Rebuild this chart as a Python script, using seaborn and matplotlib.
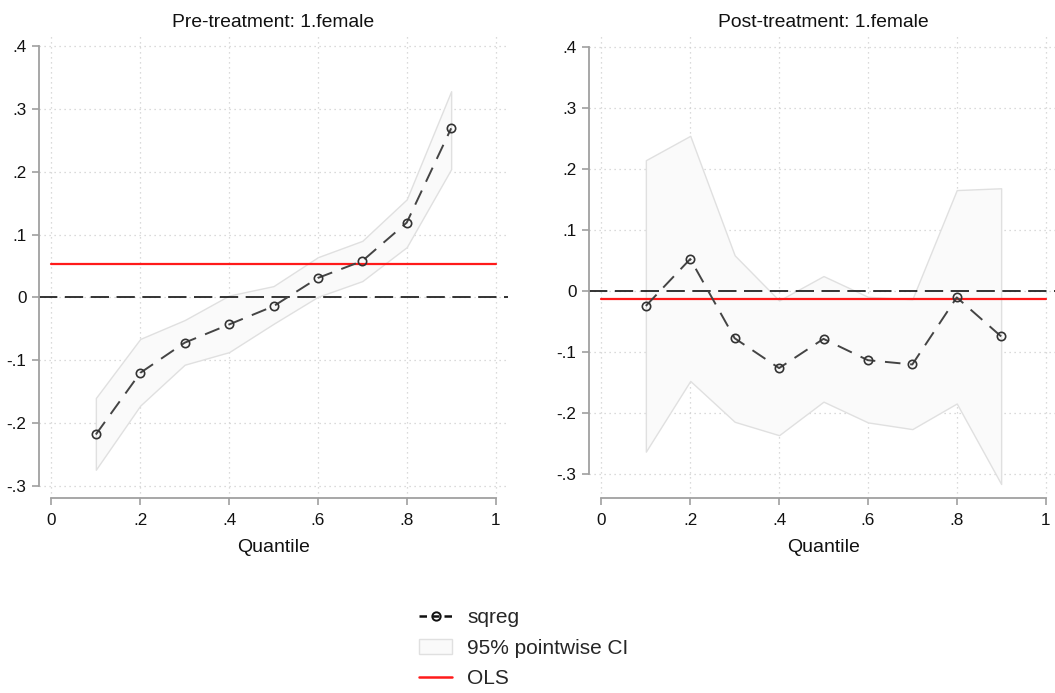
import matplotlib
matplotlib.use("Agg")
import matplotlib.pyplot as plt
import numpy as np
import pandas as pd
import seaborn as sns
from matplotlib.lines import Line2D
from matplotlib.patches import Patch

# Quantiles and estimates
quantiles = [0.1, 0.2, 0.3, 0.4, 0.5, 0.6, 0.7, 0.8, 0.9]

pre_coef = [-0.218, -0.120, -0.072, -0.043, -0.014, 0.031, 0.058, 0.119, 0.269]
pre_upper = [-0.160, -0.066, -0.036, 0.003, 0.018, 0.064, 0.090, 0.156, 0.328]
pre_lower = [-0.274, -0.172, -0.107, -0.087, -0.042, 0.001, 0.026, 0.080, 0.204]
pre_ols = 0.053

post_coef = [-0.025, 0.052, -0.078, -0.127, -0.079, -0.114, -0.121, -0.011, -0.075]
post_upper = [0.214, 0.254, 0.058, -0.016, 0.024, -0.010, -0.014, 0.165, 0.168]
post_lower = [-0.264, -0.148, -0.215, -0.237, -0.182, -0.216, -0.227, -0.185, -0.317]
post_ols = -0.014

titles = ["Pre-treatment: 1.female", "Post-treatment: 1.female"]
yticks = [-0.3, -0.2, -0.1, 0, 0.1, 0.2, 0.3, 0.4]
ytick_labels = ["-.3", "-.2", "-.1", "0", ".1", ".2", ".3", ".4"]
xticks = [0, 0.2, 0.4, 0.6, 0.8, 1]
xtick_labels = ["0", ".2", ".4", ".6", ".8", "1"]

sns.set_theme(style="white")
plt.rcParams["font.family"] = ["Liberation Sans", "DejaVu Sans"]

fig = plt.figure(figsize=(10.55, 6.93), dpi=100)
W, H = 1055, 693

# axes boxes in pixels: left, top, right, bottom
boxes = [(39, 34, 508, 498), (589, 34, 1058, 498)]
ylims = [(-0.319, 0.419), (-0.340, 0.421)]

panels = [
    (pre_coef, pre_lower, pre_upper, pre_ols),
    (post_coef, post_lower, post_upper, post_ols),
]

spine_col = "#a0a0a0"
ci_face, ci_edge = "#fafafa", "#e0e0e0"
for i, (coef, lo, up, ols) in enumerate(panels):
    l, t, r, b = boxes[i]
    ax = fig.add_axes([l / W, 1 - b / H, (r - l) / W, (b - t) / H])
    df = pd.DataFrame({"q": quantiles, "coef": coef, "lo": lo, "up": up})

    ax.fill_between(df.q, df.lo, df.up, facecolor=ci_face,
                    edgecolor=ci_edge, linewidth=1.0, zorder=1)
    ax.axhline(0, color="#111111", linestyle=(0, (11, 4.5)), linewidth=1.2, zorder=2)
    ax.axhline(ols, color="#ff1a1a", linewidth=1.6, zorder=3,
               xmin=0.028 / 1.056, xmax=1.028 / 1.056)
    sns.lineplot(data=df, x="q", y="coef", ax=ax, color="#444444",
                 linestyle=(0, (8, 5)), linewidth=1.4, marker="o",
                 markersize=6, markerfacecolor="none",
                 markeredgecolor="#333333", markeredgewidth=1.2,
                 zorder=4)

    ax.set_xlim(-0.028, 1.028)
    ax.set_ylim(*ylims[i])
    ax.set_xticks(xticks)
    ax.set_xticklabels(xtick_labels)
    ax.set_yticks(yticks)
    ax.set_yticklabels(ytick_labels)
    ax.grid(True, color="#cfcfcf", linestyle=(0, (1, 3)), linewidth=0.9)
    ax.set_axisbelow(True)

    for s in ["top", "right"]:
        ax.spines[s].set_visible(False)
    ax.spines["left"].set_bounds(-0.3, 0.4)
    ax.spines["bottom"].set_bounds(0, 1)
    for s in ["left", "bottom"]:
        ax.spines[s].set_color(spine_col)
        ax.spines[s].set_linewidth(1.3)
    ax.tick_params(axis="both", which="both", direction="out", length=5,
                   width=1.2, color=spine_col, labelsize=12.3,
                   labelcolor="#111111", left=True, bottom=True, pad=4)
    ax.tick_params(axis="x", pad=6)
    ax.set_xlabel("Quantile", fontsize=14, color="#111111", labelpad=8)
    ax.set_ylabel("")
    ax.set_title(titles[i], fontsize=13.9, color="#111111", pad=5)
    ax.set_facecolor("white")

handles = [
    Line2D([0], [0], color="#111111", linestyle=(0, (3, 2)), linewidth=1.8,
           marker="o", markersize=6, markerfacecolor="none",
           markeredgecolor="#111111", markeredgewidth=1.4),
    Patch(facecolor=ci_face, edgecolor=ci_edge, linewidth=1.0),
    Line2D([0], [0], color="#ff1a1a", linewidth=1.8),
]
labels = ["sqreg", "95% pointwise CI", "OLS"]
fig.legend(handles, labels, loc="center", bbox_to_anchor=(524 / W, 1 - 648 / H),
           frameon=False, fontsize=15, handlelength=1.55, handletextpad=0.75,
           labelspacing=0.55, borderpad=0)

fig.savefig("out.png", dpi=100, facecolor="white")
